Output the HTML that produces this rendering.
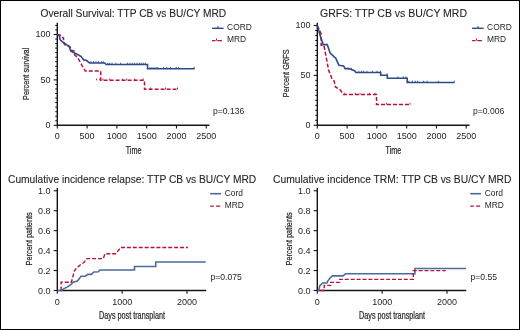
<!DOCTYPE html>
<html><head><meta charset="utf-8"><style>
html,body{margin:0;padding:0;background:#fff;}
#f{position:absolute;left:0;top:0;width:520px;height:330px;box-sizing:border-box;border:1px solid #000;border-right-width:1.5px;border-bottom-width:1.5px;overflow:hidden;}
svg{position:absolute;left:-1px;top:-1px;will-change:transform;}
text{font-family:"Liberation Sans", sans-serif;fill:#262626;}
.lab{stroke:#262626;stroke-width:0.22px;}
.tt{stroke:#262626;stroke-width:0.1px;}
</style></head><body><div id="f">
<svg width="520" height="330" viewBox="0 0 520 330">
<path d="M57.3,22.7 L57.3,125.3 L209.5,125.3" fill="none" stroke="#151515" stroke-width="1.4"/>
<line x1="53.699999999999996" y1="125.30" x2="57.3" y2="125.30" stroke="#151515" stroke-width="1.1"/>
<line x1="53.699999999999996" y1="79.90" x2="57.3" y2="79.90" stroke="#151515" stroke-width="1.1"/>
<line x1="53.699999999999996" y1="34.50" x2="57.3" y2="34.50" stroke="#151515" stroke-width="1.1"/>
<line x1="55.199999999999996" y1="120.76" x2="57.3" y2="120.76" stroke="#151515" stroke-width="1.0"/>
<line x1="55.199999999999996" y1="116.22" x2="57.3" y2="116.22" stroke="#151515" stroke-width="1.0"/>
<line x1="55.199999999999996" y1="111.68" x2="57.3" y2="111.68" stroke="#151515" stroke-width="1.0"/>
<line x1="55.199999999999996" y1="107.14" x2="57.3" y2="107.14" stroke="#151515" stroke-width="1.0"/>
<line x1="55.199999999999996" y1="102.60" x2="57.3" y2="102.60" stroke="#151515" stroke-width="1.0"/>
<line x1="55.199999999999996" y1="98.06" x2="57.3" y2="98.06" stroke="#151515" stroke-width="1.0"/>
<line x1="55.199999999999996" y1="93.52" x2="57.3" y2="93.52" stroke="#151515" stroke-width="1.0"/>
<line x1="55.199999999999996" y1="88.98" x2="57.3" y2="88.98" stroke="#151515" stroke-width="1.0"/>
<line x1="55.199999999999996" y1="84.44" x2="57.3" y2="84.44" stroke="#151515" stroke-width="1.0"/>
<line x1="55.199999999999996" y1="75.36" x2="57.3" y2="75.36" stroke="#151515" stroke-width="1.0"/>
<line x1="55.199999999999996" y1="70.82" x2="57.3" y2="70.82" stroke="#151515" stroke-width="1.0"/>
<line x1="55.199999999999996" y1="66.28" x2="57.3" y2="66.28" stroke="#151515" stroke-width="1.0"/>
<line x1="55.199999999999996" y1="61.74" x2="57.3" y2="61.74" stroke="#151515" stroke-width="1.0"/>
<line x1="55.199999999999996" y1="57.20" x2="57.3" y2="57.20" stroke="#151515" stroke-width="1.0"/>
<line x1="55.199999999999996" y1="52.66" x2="57.3" y2="52.66" stroke="#151515" stroke-width="1.0"/>
<line x1="55.199999999999996" y1="48.12" x2="57.3" y2="48.12" stroke="#151515" stroke-width="1.0"/>
<line x1="55.199999999999996" y1="43.58" x2="57.3" y2="43.58" stroke="#151515" stroke-width="1.0"/>
<line x1="55.199999999999996" y1="39.04" x2="57.3" y2="39.04" stroke="#151515" stroke-width="1.0"/>
<line x1="55.199999999999996" y1="29.96" x2="57.3" y2="29.96" stroke="#151515" stroke-width="1.0"/>
<line x1="55.199999999999996" y1="25.42" x2="57.3" y2="25.42" stroke="#151515" stroke-width="1.0"/>
<line x1="57.30" y1="125.3" x2="57.30" y2="128.5" stroke="#151515" stroke-width="1.1"/>
<line x1="87.09" y1="125.3" x2="87.09" y2="128.5" stroke="#151515" stroke-width="1.1"/>
<line x1="116.88" y1="125.3" x2="116.88" y2="128.5" stroke="#151515" stroke-width="1.1"/>
<line x1="146.67" y1="125.3" x2="146.67" y2="128.5" stroke="#151515" stroke-width="1.1"/>
<line x1="176.46" y1="125.3" x2="176.46" y2="128.5" stroke="#151515" stroke-width="1.1"/>
<line x1="206.25" y1="125.3" x2="206.25" y2="128.5" stroke="#151515" stroke-width="1.1"/>
<text x="50.50" y="128.10" font-size="9" text-anchor="end" >0</text>
<text x="50.50" y="82.70" font-size="9" text-anchor="end" >50</text>
<text x="50.50" y="37.30" font-size="9" text-anchor="end" >100</text>
<text x="57.30" y="139.10" font-size="9" text-anchor="middle" >0</text>
<text x="87.09" y="139.10" font-size="9" text-anchor="middle" >500</text>
<text x="116.88" y="139.10" font-size="9" text-anchor="middle" >1000</text>
<text x="146.67" y="139.10" font-size="9" text-anchor="middle" >1500</text>
<text x="176.46" y="139.10" font-size="9" text-anchor="middle" >2000</text>
<text x="206.25" y="139.10" font-size="9" text-anchor="middle" >2500</text>
<path d="M317.3,22.7 L317.3,125.3 L469.5,125.3" fill="none" stroke="#151515" stroke-width="1.4"/>
<line x1="313.7" y1="125.30" x2="317.3" y2="125.30" stroke="#151515" stroke-width="1.1"/>
<line x1="313.7" y1="75.40" x2="317.3" y2="75.40" stroke="#151515" stroke-width="1.1"/>
<line x1="313.7" y1="25.50" x2="317.3" y2="25.50" stroke="#151515" stroke-width="1.1"/>
<line x1="315.2" y1="120.31" x2="317.3" y2="120.31" stroke="#151515" stroke-width="1.0"/>
<line x1="315.2" y1="115.32" x2="317.3" y2="115.32" stroke="#151515" stroke-width="1.0"/>
<line x1="315.2" y1="110.33" x2="317.3" y2="110.33" stroke="#151515" stroke-width="1.0"/>
<line x1="315.2" y1="105.34" x2="317.3" y2="105.34" stroke="#151515" stroke-width="1.0"/>
<line x1="315.2" y1="100.35" x2="317.3" y2="100.35" stroke="#151515" stroke-width="1.0"/>
<line x1="315.2" y1="95.36" x2="317.3" y2="95.36" stroke="#151515" stroke-width="1.0"/>
<line x1="315.2" y1="90.37" x2="317.3" y2="90.37" stroke="#151515" stroke-width="1.0"/>
<line x1="315.2" y1="85.38" x2="317.3" y2="85.38" stroke="#151515" stroke-width="1.0"/>
<line x1="315.2" y1="80.39" x2="317.3" y2="80.39" stroke="#151515" stroke-width="1.0"/>
<line x1="315.2" y1="70.41" x2="317.3" y2="70.41" stroke="#151515" stroke-width="1.0"/>
<line x1="315.2" y1="65.42" x2="317.3" y2="65.42" stroke="#151515" stroke-width="1.0"/>
<line x1="315.2" y1="60.43" x2="317.3" y2="60.43" stroke="#151515" stroke-width="1.0"/>
<line x1="315.2" y1="55.44" x2="317.3" y2="55.44" stroke="#151515" stroke-width="1.0"/>
<line x1="315.2" y1="50.45" x2="317.3" y2="50.45" stroke="#151515" stroke-width="1.0"/>
<line x1="315.2" y1="45.46" x2="317.3" y2="45.46" stroke="#151515" stroke-width="1.0"/>
<line x1="315.2" y1="40.47" x2="317.3" y2="40.47" stroke="#151515" stroke-width="1.0"/>
<line x1="315.2" y1="35.48" x2="317.3" y2="35.48" stroke="#151515" stroke-width="1.0"/>
<line x1="315.2" y1="30.49" x2="317.3" y2="30.49" stroke="#151515" stroke-width="1.0"/>
<line x1="317.30" y1="125.3" x2="317.30" y2="128.5" stroke="#151515" stroke-width="1.1"/>
<line x1="347.09" y1="125.3" x2="347.09" y2="128.5" stroke="#151515" stroke-width="1.1"/>
<line x1="376.88" y1="125.3" x2="376.88" y2="128.5" stroke="#151515" stroke-width="1.1"/>
<line x1="406.67" y1="125.3" x2="406.67" y2="128.5" stroke="#151515" stroke-width="1.1"/>
<line x1="436.46" y1="125.3" x2="436.46" y2="128.5" stroke="#151515" stroke-width="1.1"/>
<line x1="466.25" y1="125.3" x2="466.25" y2="128.5" stroke="#151515" stroke-width="1.1"/>
<text x="310.50" y="128.10" font-size="9" text-anchor="end" >0</text>
<text x="310.50" y="78.20" font-size="9" text-anchor="end" >50</text>
<text x="310.50" y="28.30" font-size="9" text-anchor="end" >100</text>
<text x="317.30" y="139.10" font-size="9" text-anchor="middle" >0</text>
<text x="347.09" y="139.10" font-size="9" text-anchor="middle" >500</text>
<text x="376.88" y="139.10" font-size="9" text-anchor="middle" >1000</text>
<text x="406.67" y="139.10" font-size="9" text-anchor="middle" >1500</text>
<text x="436.46" y="139.10" font-size="9" text-anchor="middle" >2000</text>
<text x="466.25" y="139.10" font-size="9" text-anchor="middle" >2500</text>
<path d="M57.3,188 L57.3,290.5 L206.25,290.5" fill="none" stroke="#151515" stroke-width="1.4"/>
<line x1="53.699999999999996" y1="290.50" x2="57.3" y2="290.50" stroke="#151515" stroke-width="1.1"/>
<line x1="53.699999999999996" y1="270.55" x2="57.3" y2="270.55" stroke="#151515" stroke-width="1.1"/>
<line x1="53.699999999999996" y1="250.60" x2="57.3" y2="250.60" stroke="#151515" stroke-width="1.1"/>
<line x1="53.699999999999996" y1="230.65" x2="57.3" y2="230.65" stroke="#151515" stroke-width="1.1"/>
<line x1="53.699999999999996" y1="210.70" x2="57.3" y2="210.70" stroke="#151515" stroke-width="1.1"/>
<line x1="53.699999999999996" y1="190.75" x2="57.3" y2="190.75" stroke="#151515" stroke-width="1.1"/>
<line x1="57.30" y1="290.5" x2="57.30" y2="293.7" stroke="#151515" stroke-width="1.1"/>
<line x1="122.15" y1="290.5" x2="122.15" y2="293.7" stroke="#151515" stroke-width="1.1"/>
<line x1="187.00" y1="290.5" x2="187.00" y2="293.7" stroke="#151515" stroke-width="1.1"/>
<text x="50.50" y="293.70" font-size="9" text-anchor="end" >0.0</text>
<text x="50.50" y="273.75" font-size="9" text-anchor="end" >0.2</text>
<text x="50.50" y="253.80" font-size="9" text-anchor="end" >0.4</text>
<text x="50.50" y="233.85" font-size="9" text-anchor="end" >0.6</text>
<text x="50.50" y="213.90" font-size="9" text-anchor="end" >0.8</text>
<text x="50.50" y="193.95" font-size="9" text-anchor="end" >1.0</text>
<text x="57.30" y="305.00" font-size="9" text-anchor="middle" >0</text>
<text x="122.15" y="305.00" font-size="9" text-anchor="middle" >1000</text>
<text x="187.00" y="305.00" font-size="9" text-anchor="middle" >2000</text>
<path d="M317.3,188 L317.3,290.5 L466.25,290.5" fill="none" stroke="#151515" stroke-width="1.4"/>
<line x1="313.7" y1="290.50" x2="317.3" y2="290.50" stroke="#151515" stroke-width="1.1"/>
<line x1="313.7" y1="270.55" x2="317.3" y2="270.55" stroke="#151515" stroke-width="1.1"/>
<line x1="313.7" y1="250.60" x2="317.3" y2="250.60" stroke="#151515" stroke-width="1.1"/>
<line x1="313.7" y1="230.65" x2="317.3" y2="230.65" stroke="#151515" stroke-width="1.1"/>
<line x1="313.7" y1="210.70" x2="317.3" y2="210.70" stroke="#151515" stroke-width="1.1"/>
<line x1="313.7" y1="190.75" x2="317.3" y2="190.75" stroke="#151515" stroke-width="1.1"/>
<line x1="317.30" y1="290.5" x2="317.30" y2="293.7" stroke="#151515" stroke-width="1.1"/>
<line x1="382.15" y1="290.5" x2="382.15" y2="293.7" stroke="#151515" stroke-width="1.1"/>
<line x1="447.00" y1="290.5" x2="447.00" y2="293.7" stroke="#151515" stroke-width="1.1"/>
<text x="310.50" y="293.70" font-size="9" text-anchor="end" >0.0</text>
<text x="310.50" y="273.75" font-size="9" text-anchor="end" >0.2</text>
<text x="310.50" y="253.80" font-size="9" text-anchor="end" >0.4</text>
<text x="310.50" y="233.85" font-size="9" text-anchor="end" >0.6</text>
<text x="310.50" y="213.90" font-size="9" text-anchor="end" >0.8</text>
<text x="310.50" y="193.95" font-size="9" text-anchor="end" >1.0</text>
<text x="317.30" y="305.00" font-size="9" text-anchor="middle" >0</text>
<text x="382.15" y="305.00" font-size="9" text-anchor="middle" >1000</text>
<text x="447.00" y="305.00" font-size="9" text-anchor="middle" >2000</text>
<text x="40.50" y="17.00" font-size="10.2" text-anchor="start" class="tt">Overall Survival: TTP CB vs BU/CY MRD</text>
<text x="320.00" y="17.00" font-size="10.5" text-anchor="start" class="tt">GRFS: TTP CB vs BU/CY MRD</text>
<text x="8.00" y="182.50" font-size="10.22" text-anchor="start" class="tt">Cumulative incidence relapse: TTP CB vs BU/CY MRD</text>
<text x="273.00" y="182.50" font-size="10.3" text-anchor="start" class="tt">Cumulative incidence TRM: TTP CB vs BU/CY MRD</text>
<text transform="translate(29.2,73.8) rotate(-90) scale(0.75,1)" font-size="9.8" text-anchor="middle" class="lab">Percent survival</text>
<text transform="translate(288.7,73.3) rotate(-90) scale(0.75,1)" font-size="9.8" text-anchor="middle" class="lab">Percent GRFS</text>
<text transform="translate(32.2,238.85) rotate(-90) scale(0.75,1)" font-size="9.8" text-anchor="middle" class="lab">Percent patients</text>
<text transform="translate(292.2,238.85) rotate(-90) scale(0.75,1)" font-size="9.8" text-anchor="middle" class="lab">Percent patients</text>
<text transform="translate(133.6,153.7) scale(0.71,1)" font-size="10.2" text-anchor="middle" class="lab">Time</text>
<text transform="translate(393.4,153.7) scale(0.71,1)" font-size="10.2" text-anchor="middle" class="lab">Time</text>
<text transform="translate(132,319) scale(0.71,1)" font-size="10.2" text-anchor="middle" class="lab">Days post transplant</text>
<text transform="translate(392,319) scale(0.71,1)" font-size="10.2" text-anchor="middle" class="lab">Days post transplant</text>
<text x="213.00" y="113.70" font-size="8.6" text-anchor="start" >p=0.136</text>
<text x="473.00" y="113.70" font-size="8.6" text-anchor="start" >p=0.006</text>
<text x="210.50" y="279.60" font-size="8.6" text-anchor="start" >p=0.075</text>
<text x="470.50" y="279.60" font-size="8.6" text-anchor="start" >p=0.55</text>
<line x1="212.1" y1="28.3" x2="223.6" y2="28.3" stroke="#2c4b87" stroke-width="1.4"/>
<line x1="218" y1="28.3" x2="218" y2="26" stroke="#2c4b87" stroke-width="1"/>
<path d="M212.1,40.6 H215.6 M217.3,40.6 H221.9" stroke="#b8113a" stroke-width="1.4"/>
<line x1="216.5" y1="40.6" x2="216.5" y2="38.5" stroke="#b8113a" stroke-width="1"/>
<text x="227.10" y="29.80" font-size="8.4" text-anchor="start" >CORD</text>
<text x="227.10" y="41.80" font-size="8.4" text-anchor="start" >MRD</text>
<line x1="472.1" y1="28.3" x2="483.6" y2="28.3" stroke="#2c4b87" stroke-width="1.4"/>
<line x1="478" y1="28.3" x2="478" y2="26" stroke="#2c4b87" stroke-width="1"/>
<path d="M472.1,40.6 H475.6 M477.3,40.6 H481.9" stroke="#b8113a" stroke-width="1.4"/>
<line x1="476.5" y1="40.6" x2="476.5" y2="38.5" stroke="#b8113a" stroke-width="1"/>
<text x="487.10" y="29.80" font-size="8.4" text-anchor="start" >CORD</text>
<text x="487.10" y="41.80" font-size="8.4" text-anchor="start" >MRD</text>
<line x1="210.2" y1="193.7" x2="221.1" y2="193.7" stroke="#4d6a9f" stroke-width="1.6"/>
<path d="M210.2,206.1 H213.8 M216.1,206.1 H220.2" stroke="#b8113a" stroke-width="1.4"/>
<text x="224.80" y="195.60" font-size="8.4" text-anchor="start" >Cord</text>
<text x="224.80" y="207.70" font-size="8.4" text-anchor="start" >MRD</text>
<line x1="470.2" y1="193.7" x2="481.1" y2="193.7" stroke="#4d6a9f" stroke-width="1.6"/>
<path d="M470.2,206.1 H473.8 M476.1,206.1 H480.2" stroke="#b8113a" stroke-width="1.4"/>
<text x="484.80" y="195.60" font-size="8.4" text-anchor="start" >Cord</text>
<text x="484.80" y="207.70" font-size="8.4" text-anchor="start" >MRD</text>
<path d="M57.30,34.70 L60.00,34.90 L61.50,37.40 L63.50,37.80 L63.60,42.00 L64.60,44.70 L65.80,45.00 L69.20,46.20 L70.40,47.40 L71.20,50.10 L73.80,50.80 L74.60,54.90 L77.30,57.20 L80.00,61.50 L81.90,65.30 L83.50,68.00 L85.40,71.10 L100.70,71.10 L100.70,80.30 L144.50,80.30 L144.50,89.30 L177.80,89.30" fill="none" stroke="#b8113a" stroke-width="1.5" stroke-dasharray="4 2"/>
<path d="M57.30,34.70 L58.10,34.70 L59.60,36.60 L60.00,39.70 L62.70,42.00 L66.50,44.70 L69.20,46.60 L70.80,51.20 L75.00,53.20 L78.10,54.70 L81.20,56.60 L83.80,59.90 L86.20,60.30 L89.60,63.00 L104.60,63.00 L106.20,64.50 L147.50,64.50 L147.50,68.80 L194.40,68.80" fill="none" stroke="#2c4b87" stroke-width="1.6"/>
<path d="M317.30,25.50 L321.10,33.60 L321.10,45.20 L323.90,45.20 L328.60,70.00 L332.00,78.90 L334.10,80.90 L335.50,87.00 L340.20,89.80 L343.60,94.60 L376.50,94.60 L376.50,104.60 L410.10,104.60" fill="none" stroke="#b8113a" stroke-width="1.5" stroke-dasharray="4 2"/>
<path d="M317.30,25.50 L320.50,36.40 L323.20,44.60 L327.30,44.60 L330.00,52.70 L334.10,56.80 L335.50,57.70 L338.90,65.20 L343.60,65.90 L345.00,68.60 L348.40,68.60 L350.50,69.30 L354.60,70.70 L355.90,72.50 L380.70,72.50 L380.70,75.20 L387.30,75.20 L387.30,78.20 L407.20,78.20 L407.20,82.50 L454.30,82.50" fill="none" stroke="#2c4b87" stroke-width="1.6"/>
<path d="M91.00,63.00 V61.20 M93.50,63.00 V61.20 M96.00,63.00 V61.20 M98.50,63.00 V61.20 M101.40,63.00 V61.20 M103.30,63.00 V61.20" stroke="#2c4b87" stroke-width="0.9" fill="none"/>
<path d="M107.70,64.50 V62.70 M109.60,64.50 V62.70 M112.00,64.50 V62.70 M115.90,64.50 V62.70 M120.70,64.50 V62.70 M127.40,64.50 V62.70 M129.80,64.50 V62.70 M132.20,64.50 V62.70 M134.60,64.50 V62.70 M137.00,64.50 V62.70 M139.40,64.50 V62.70 M141.30,64.50 V62.70 M143.30,64.50 V62.70 M145.20,64.50 V62.70" stroke="#2c4b87" stroke-width="0.9" fill="none"/>
<path d="M149.80,68.80 V67.00 M151.90,68.80 V67.00 M154.00,68.80 V67.00 M156.10,68.80 V67.00 M157.70,68.80 V67.00 M163.50,68.80 V67.00 M166.70,68.80 V67.00 M170.40,68.80 V67.00 M176.20,68.80 V67.00 M178.30,68.80 V67.00 M194.20,68.80 V67.00" stroke="#2c4b87" stroke-width="0.9" fill="none"/>
<path d="M96.60,80.30 V78.50 M99.80,80.30 V78.50 M102.90,80.30 V78.50 M109.80,80.30 V78.50 M122.50,80.30 V78.50 M126.70,80.30 V78.50 M134.70,80.30 V78.50 M143.10,80.30 V78.50" stroke="#b8113a" stroke-width="0.9" fill="none"/>
<path d="M150.60,89.30 V87.50 M165.50,89.30 V87.50 M177.50,89.30 V87.50" stroke="#b8113a" stroke-width="0.9" fill="none"/>
<path d="M348.70,69.50 V67.70 M351.40,69.50 V67.70" stroke="#2c4b87" stroke-width="0.9" fill="none"/>
<path d="M358.80,72.50 V70.70 M361.50,72.50 V70.70 M363.60,72.50 V70.70 M366.90,72.50 V70.70 M372.30,72.50 V70.70 M377.00,72.50 V70.70 M380.40,72.50 V70.70" stroke="#2c4b87" stroke-width="0.9" fill="none"/>
<path d="M387.10,75.20 V73.40" stroke="#2c4b87" stroke-width="0.9" fill="none"/>
<path d="M397.90,78.20 V76.40 M403.30,78.20 V76.40 M406.00,78.20 V76.40" stroke="#2c4b87" stroke-width="0.9" fill="none"/>
<path d="M408.90,82.50 V80.70 M412.40,82.50 V80.70 M415.30,82.50 V80.70 M417.60,82.50 V80.70 M423.60,82.50 V80.70 M427.10,82.50 V80.70 M438.30,82.50 V80.70 M454.30,82.50 V80.70" stroke="#2c4b87" stroke-width="0.9" fill="none"/>
<path d="M344.30,94.60 V92.80 M355.20,94.60 V92.80 M360.00,94.60 V92.80 M369.60,94.60 V92.80 M375.00,94.60 V92.80" stroke="#b8113a" stroke-width="0.9" fill="none"/>
<path d="M386.40,104.60 V102.80 M410.10,104.60 V102.80" stroke="#b8113a" stroke-width="0.9" fill="none"/>
<path d="M57.50,290.50 L61.70,290.50 L63.50,288.90 L67.10,287.10 L70.80,284.70 L73.20,282.30 L77.40,281.10 L81.10,276.20 L85.30,276.20 L87.70,274.40 L91.40,274.40 L93.80,272.00 L98.30,271.70 L99.70,270.00 L134.50,270.00 L134.50,266.50 L155.75,266.50 L155.75,262.00 L205.75,262.00" fill="none" stroke="#4d6a9f" stroke-width="1.6"/>
<path d="M61.10,290.50 L61.10,282.30 L71.40,282.30 L74.40,270.80 L76.20,268.60 L79.80,265.30 L84.10,262.30 L87.10,258.60 L103.30,258.60 L105.00,253.70 L115.80,253.70 L120.80,247.50 L188.00,247.50" fill="none" stroke="#b8113a" stroke-width="1.4" stroke-dasharray="4 1.9"/>
<path d="M317.50,290.50 L318.80,290.50 L319.70,285.80 L322.60,283.00 L326.90,283.00 L327.70,281.10 L330.30,277.70 L332.40,275.90 L343.00,275.90 L345.60,273.80 L414.90,273.80 L414.90,268.50 L466.10,268.50" fill="none" stroke="#4d6a9f" stroke-width="1.6"/>
<path d="M320.50,290.50 L324.20,290.50 L324.20,285.40 L330.70,285.40 L330.70,282.40 L339.60,282.40 L339.60,279.40 L413.30,279.40 L413.30,270.60 L445.70,270.60" fill="none" stroke="#b8113a" stroke-width="1.4" stroke-dasharray="4 1.9"/>
</svg></div></body></html>
